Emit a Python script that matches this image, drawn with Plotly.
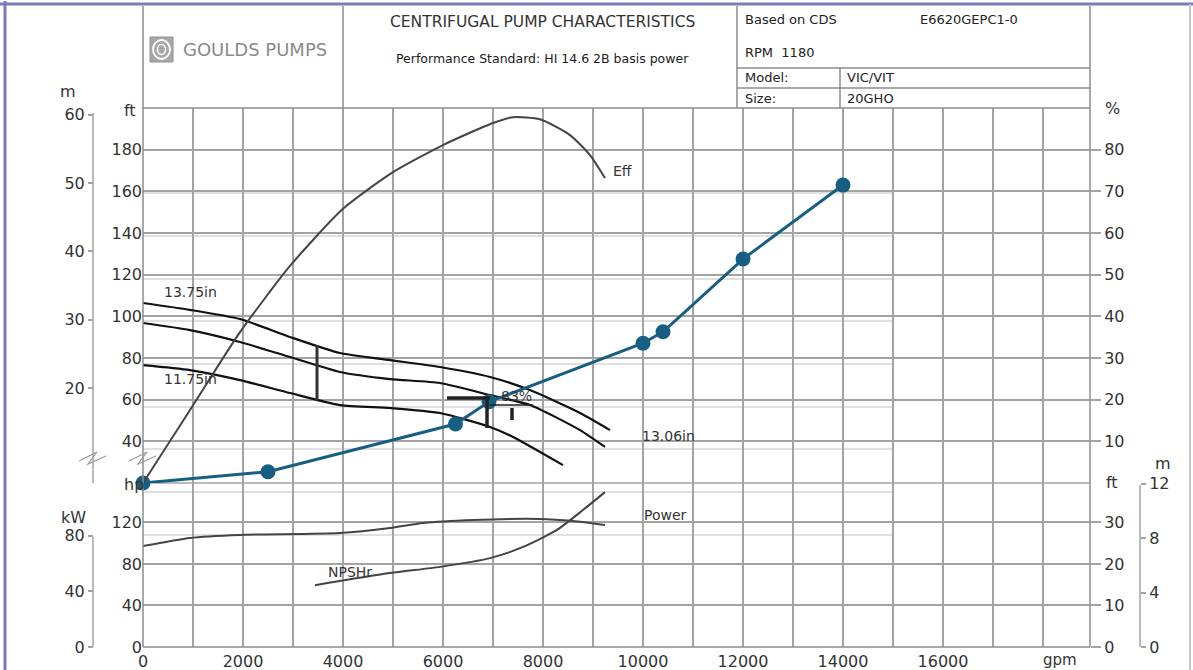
import plotly.graph_objects as go

# ---------------- data ----------------
x_tick_vals = list(range(0, 19000, 1000))
x_tick_text = ["0", "", "2000", "", "4000", "", "6000", "", "8000", "", "10000", "",
               "12000", "", "14000", "", "16000", "", ""]

head_ft_ticks = [40, 60, 80, 100, 120, 140, 160, 180]
head_m_ticks = [20, 30, 40, 50, 60]
eff_ticks = [10, 20, 30, 40, 50, 60, 70, 80]
hp_ticks = [0, 40, 80, 120]
kw_ticks = [0, 40, 80]
npsh_ft_ticks = [0, 10, 20, 30]
npsh_m_ticks = [0, 4, 8, 12]

# head curves (gpm, ft)
h1375_gpm = [0, 940, 1940, 2940, 3940, 4940, 5940, 6940, 7740, 8740, 9340]
h1375_ft = [106.4, 103.1, 98.7, 90.1, 82.4, 79.0, 75.7, 70.9, 64.6, 53.6, 45.4]
h1306_gpm = [0, 940, 1940, 2940, 3940, 4940, 5940, 6940, 7740, 8740, 9240]
h1306_ft = [96.8, 93.4, 87.7, 80.5, 73.3, 69.9, 68.0, 62.2, 57.4, 45.4, 37.3]
h1175_gpm = [0, 940, 1940, 2940, 3940, 4940, 5940, 6940, 7400, 8400]
h1175_ft = [76.6, 74.2, 69.4, 63.2, 57.4, 56.0, 53.6, 46.9, 42.1, 28.6]

# efficiency (gpm, %)
eff_gpm = [0, 940, 1940, 2940, 4000, 5000, 6000, 7000, 7400, 7940, 8540, 8940, 9240]
eff_pct = [0, 17.5, 36.2, 52.1, 65.8, 74.6, 81.1, 86.4, 87.8, 87.3, 83.5, 78.7, 73.2]

# power (gpm, hp)
pow_gpm = [0, 940, 1940, 3940, 4940, 5600, 6600, 7940, 8600, 9240]
pow_hp = [97.3, 105.1, 108.0, 109.9, 114.7, 119.5, 122.4, 123.4, 121.4, 117.6]

# NPSHr (gpm, ft)
npsh_gpm = [3440, 4940, 5940, 6940, 7600, 8280, 8800, 9240]
npsh_ft = [14.9, 17.8, 19.3, 21.4, 24.1, 28.2, 33.0, 37.3]

# overlaid blue series (gpm, ft)
blue_gpm = [0, 2500, 6250, 6920, 10000, 10400, 12000, 14000]
blue_ft = [20.0, 25.4, 48.3, 59.0, 87.1, 92.6, 127.5, 163.0]

# ---------------- layout helpers ----------------
W, H = 1193, 670
def px(x):
    return x / W
def py(y):
    return 1 - y / H

FT_RANGE = [20, 200]
HP_RANGE = [0, 158]
X_RANGE = [0, 18940]
GRID = "#a3a3a3"
TXT = "#333333"
FONT = "DejaVu Sans"

fig = go.Figure()

spl = dict(shape="spline", smoothing=0.6)
for gx, gy in [(h1375_gpm, h1375_ft), (h1306_gpm, h1306_ft), (h1175_gpm, h1175_ft)]:
    fig.add_trace(go.Scatter(x=gx, y=gy, mode="lines", line=dict(color="#111111", width=2.2, **spl),
                             xaxis="x", yaxis="y", hoverinfo="skip", showlegend=False))
fig.add_trace(go.Scatter(x=eff_gpm, y=eff_pct, mode="lines", line=dict(color="#444444", width=2, **spl),
                         xaxis="x", yaxis="y3", hoverinfo="skip", showlegend=False))
fig.add_trace(go.Scatter(x=pow_gpm, y=pow_hp, mode="lines", line=dict(color="#444444", width=2, **spl),
                         xaxis="x", yaxis="y2", hoverinfo="skip", showlegend=False))
fig.add_trace(go.Scatter(x=npsh_gpm, y=npsh_ft, mode="lines", line=dict(color="#444444", width=2, **spl),
                         xaxis="x", yaxis="y5", hoverinfo="skip", showlegend=False))
# dummy traces to register tick-only axes
for ax in ["y4", "y6", "y7"]:
    fig.add_trace(go.Scatter(x=[None], y=[None], xaxis="x", yaxis=ax, showlegend=False, hoverinfo="skip"))

fig.add_trace(go.Scatter(x=blue_gpm, y=blue_ft, mode="lines+markers",
                         line=dict(color="#165f82", width=3),
                         marker=dict(color="#165f82", size=15),
                         cliponaxis=False, xaxis="x", yaxis="y", showlegend=False))

tickfont = dict(family=FONT, size=16, color=TXT)

fig.update_layout(
    width=W, height=H,
    margin=dict(l=0, r=0, t=0, b=0),
    paper_bgcolor="white", plot_bgcolor="rgba(0,0,0,0)",
    font=dict(family=FONT, color=TXT),
    xaxis=dict(domain=[px(143), px(1090)], range=X_RANGE, anchor="y2",
               tickvals=x_tick_vals, ticktext=x_tick_text, ticks="", ticklabelstandoff=3,
               showgrid=True, gridcolor=GRID, gridwidth=1.5, zeroline=False, showline=False,
               tickfont=dict(family=FONT, size=16, color=TXT), automargin=False, fixedrange=True),
    yaxis=dict(domain=[py(483), py(108)], range=FT_RANGE, anchor="x",
               tickvals=head_ft_ticks, ticks="", showgrid=True, gridcolor=GRID, gridwidth=1.5,
               zeroline=False, showline=False, tickfont=tickfont, automargin=False),
    yaxis2=dict(domain=[py(647), py(483)], range=HP_RANGE, anchor="x",
                tickvals=hp_ticks, ticks="", showgrid=True, gridcolor=GRID, gridwidth=1.5,
                zeroline=False, showline=False, tickfont=tickfont, automargin=False),
    yaxis3=dict(overlaying="y", side="right", anchor="x", range=[0, 90], tickvals=eff_ticks,
                ticks="outside", ticklen=10, tickcolor=GRID, tickwidth=1.5, showgrid=False,
                zeroline=False, showline=False, tickfont=tickfont, automargin=False),
    yaxis4=dict(overlaying="y", side="left", anchor="free", position=px(93),
                range=[FT_RANGE[0] * 0.3048, FT_RANGE[1] * 0.3048], tickvals=head_m_ticks,
                ticks="outside", ticklen=5, tickcolor=GRID, tickwidth=1.5, showgrid=False,
                zeroline=False, showline=False, tickfont=tickfont, automargin=False),
    yaxis5=dict(overlaying="y2", side="right", anchor="x", range=[HP_RANGE[0] / 4, HP_RANGE[1] / 4],
                tickvals=npsh_ft_ticks, ticks="outside", ticklen=10, tickcolor=GRID, tickwidth=1.5,
                showgrid=False, zeroline=False, showline=False, tickfont=tickfont, automargin=False),
    yaxis6=dict(overlaying="y2", side="right", anchor="free", position=px(1140),
                range=[0, HP_RANGE[1] / 4 * 0.3048], tickvals=npsh_m_ticks,
                ticks="outside", ticklen=5, tickcolor=GRID, tickwidth=1.5, showgrid=False,
                zeroline=False, showline=False, tickfont=tickfont, automargin=False),
    yaxis7=dict(overlaying="y2", side="left", anchor="free", position=px(93),
                range=[0, HP_RANGE[1] * 0.7457], tickvals=kw_ticks,
                ticks="outside", ticklen=5, tickcolor=GRID, tickwidth=1.5, showgrid=False,
                zeroline=False, showline=False, tickfont=tickfont, automargin=False),
)

shapes = []
def pline(x0, y0, x1, y1, color=GRID, width=1.5, layer="above"):
    shapes.append(dict(type="line", xref="paper", yref="paper", x0=px(x0), y0=py(y0),
                       x1=px(x1), y1=py(y1), line=dict(color=color, width=width), layer=layer))

# light overlay grid (from the pasted chart)
for yy in [193, 236, 279, 321, 364, 407, 449, 492, 535]:
    pline(143, yy, 893, yy, color="#d6d6d6", width=1.5, layer="below")
pline(893, 150, 893, 535, color="#d0d0d0", width=1.5, layer="below")

# frame and panel boundary
pline(143, 108, 1090, 108, color="#8c8c8c", width=1.5)
pline(143, 483, 1090, 483, color=GRID, width=1.5, layer="below")
pline(143, 6, 143, 647, color="#8c8c8c", width=1.5)
pline(1090, 6, 1090, 647, color="#8c8c8c", width=1.5)
pline(143, 647, 1090, 647, color="#8c8c8c", width=1.5)
# header boxes
pline(343, 6, 343, 108, color="#8c8c8c", width=1.5)
pline(737, 6, 737, 108, color="#8c8c8c", width=1.5)
pline(737, 68, 1090, 68, color="#8c8c8c", width=1.5)
pline(737, 88, 1090, 88, color="#8c8c8c", width=1.5)
pline(840, 68, 840, 108, color="#8c8c8c", width=1.5)
# secondary axis lines
pline(93, 113, 93, 483, color=GRID, width=1.5)
pline(93, 537, 93, 647, color=GRID, width=1.5)
pline(1140, 485, 1140, 647, color=GRID, width=1.5)
# outer picture border
pline(5, 1, 5, 670, color="#7b7bbd", width=3)
pline(0, 4, 1193, 4, color="#7b7bbd", width=3)
pline(1190, 4, 1190, 670, color="#c8c8c8", width=2)

# zig-zag axis breaks
def zig(xc, yc, color="#9a9a9a"):
    path = (f"M {px(xc-13)},{py(yc+2)} L {px(xc+5)},{py(yc-7)} L {px(xc-4)},{py(yc+5)} "
            f"L {px(xc+14)},{py(yc-3)}")
    shapes.append(dict(type="path", xref="paper", yref="paper", path=path,
                       line=dict(color=color, width=1.2)))
zig(92, 459)
zig(142, 459)

# operating region marks (data coords)
def dline(x0, y0, x1, y1, width=3, color="#222222"):
    shapes.append(dict(type="line", xref="x", yref="y", x0=x0, y0=y0, x1=x1, y1=y1,
                       line=dict(color=color, width=width)))
dline(3480, 86.2, 3480, 59.8, width=3, color="#333333")
dline(6080, 60.8, 6940, 60.8, width=3.5)
dline(6880, 60.0, 6880, 46.4, width=3.5)
dline(6940, 57.4, 7800, 57.4, width=1.5)
dline(7380, 56.0, 7380, 50.2, width=3.5)

# logo
shapes.append(dict(type="rect", xref="paper", yref="paper", x0=px(150), y0=py(62), x1=px(173), y1=py(37),
                   fillcolor="#a8a8a8", line=dict(color="#909090", width=1)))
shapes.append(dict(type="circle", xref="paper", yref="paper", x0=px(153), y0=py(59), x1=px(170), y1=py(40),
                   line=dict(color="white", width=1.8)))
shapes.append(dict(type="circle", xref="paper", yref="paper", x0=px(157.5), y0=py(54.5), x1=px(165.5), y1=py(44.5),
                   line=dict(color="white", width=1.5)))

fig.update_layout(shapes=shapes)

ann = []
def txt(x, y, s, size=14, color=TXT, xanchor="center", family=FONT, bold=False):
    if bold:
        s = f"<b>{s}</b>"
    ann.append(dict(x=px(x), y=py(y), xref="paper", yref="paper", text=s, showarrow=False,
                    xanchor=xanchor, yanchor="middle", font=dict(family=family, size=size, color=color)))

txt(255, 49, "GOULDS PUMPS", size=18, color="#8a8a8a")
txt(542, 22, "CENTRIFUGAL PUMP CHARACTERISTICS", size=15.5, color="#333333")
txt(542, 58, "Performance Standard: HI 14.6 2B basis power", size=12.5, color="#1a1a1a")
txt(743, 20, "Based on CDS", size=13, xanchor="left", color="#222222")
txt(918, 20, "E6620GEPC1-0", size=13, xanchor="left", color="#222222")
txt(743, 52, "RPM  1180", size=13, xanchor="left", color="#222222")
txt(743, 78, "Model:", size=13, xanchor="left", color="#222222")
txt(845, 78, "VIC/VIT", size=13, xanchor="left", color="#222222")
txt(743, 98, "Size:", size=13, xanchor="left", color="#222222")
txt(845, 98, "20GHO", size=13, xanchor="left", color="#222222")

txt(68, 92, "m", size=16)
txt(130, 110, "ft", size=16)
txt(134, 484, "hp", size=16)
txt(73, 517, "kW", size=16)
txt(1112, 108, "%", size=16)
txt(1112, 483, "ft", size=16)
txt(1163, 463, "m", size=16)
txt(1060, 660, "gpm", size=15)

txt(190, 292, "13.75in", size=14)
txt(190, 379, "11.75in", size=14)
txt(668, 436, "13.06in", size=14)
txt(516, 396, "83%", size=14)
txt(623, 171, "Eff", size=14)
txt(665, 515, "Power", size=14)
txt(350, 572, "NPSHr", size=14)

fig.update_layout(annotations=ann)

fig.write_html("out.html", include_plotlyjs=True, config={"displayModeBar": False},
               post_script="document.body.style.margin='0';document.body.style.overflow='hidden';")
